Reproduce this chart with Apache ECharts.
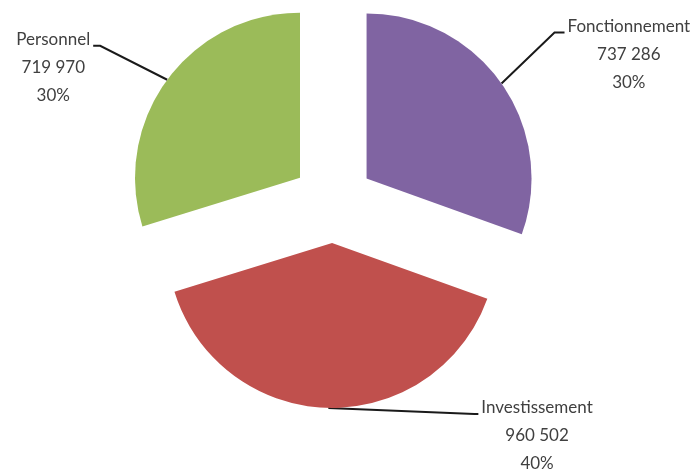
<!DOCTYPE html>
<html>
<head>
<meta charset="utf-8">
<script src="https://cdn.jsdelivr.net/npm/echarts@6/dist/echarts.min.js"></script>
<style>html,body{margin:0;padding:0;background:#fff}#c{width:695px;height:469px}</style>
</head>
<body>
<div id="c"></div>
<script>
const categories = ['Fonctionnement', 'Investissement', 'Personnel'];
const values = [737286, 960502, 719970];
const colors = ['#8064A2', '#C0504D', '#9BBB59'];

function fmt(n) { return String(n).replace(/\B(?=(\d{3})+(?!\d))/g, ' '); }

// label line offsets relative to the slice edge point (bend, end)
const lineOffsets = [
  [[53, -51], [63, -51]],
  [[146, 6], [150, 6]],
  [[-67, -34], [-74, -34]]
];

const CX = 333, CY = 202, R = 165, EXPLODE = 41;
const total = values.reduce((a, b) => a + b, 0);

let acc = 0;
const series = categories.map((name, i) => {
  const start = acc / total * 360;
  acc += values[i];
  const end = acc / total * 360;
  const mid = (start + end) / 2 * Math.PI / 180; // clockwise from top
  const center = [CX + EXPLODE * Math.sin(mid), CY - EXPLODE * Math.cos(mid)];
  return {
    type: 'pie',
    center: center,
    radius: R,
    startAngle: 90,
    clockwise: true,
    percentPrecision: 0,
    silent: true,
    emphasis: { disabled: true },
    data: categories.map((c, j) => j === i ? {
      name: c, value: values[j],
      itemStyle: { color: colors[j] }
    } : {
      name: c, value: values[j],
      itemStyle: { color: 'rgba(0,0,0,0)' },
      label: { show: false }, labelLine: { show: false }
    }),
    label: {
      show: true,
      position: 'outside',
      formatter: p => p.name + '\n' + fmt(p.value) + '\n' + p.percent + '%',
      fontFamily: 'Lato',
      fontSize: 17,
      lineHeight: 28,
      color: '#404040',
      align: 'center'
    },
    labelLine: { show: true, smooth: false, lineStyle: { color: '#1a1a1a', width: 2 } },
    labelLayout: function (params) {
      const k = params.dataIndex;
      if (k !== i || !params.labelLinePoints) return {};
      const p0 = params.labelLinePoints[0];
      const off = lineOffsets[k];
      const p1 = [p0[0] + off[0][0], p0[1] + off[0][1]];
      const p2 = [p0[0] + off[1][0], p0[1] + off[1][1]];
      const w = params.labelRect.width;
      const right = p2[0] > p1[0];
      return {
        x: right ? p2[0] + 3 + w / 2 : p2[0] - 3 - w / 2,
        y: p2[1] - 20,
        align: 'center',
        verticalAlign: 'top',
        labelLinePoints: [p0, p1, p2]
      };
    }
  };
});

const chart = echarts.init(document.getElementById('c'));
chart.setOption({ animation: false, series: series });
</script>
</body>
</html>
